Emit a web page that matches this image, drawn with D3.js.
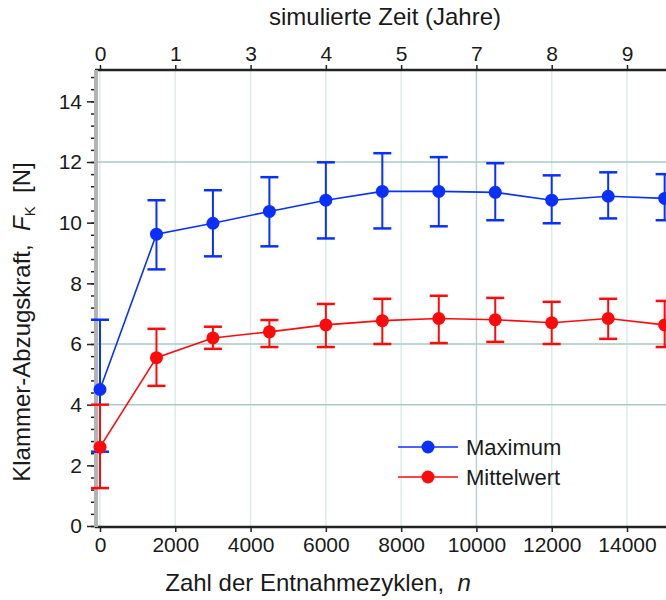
<!DOCTYPE html>
<meta charset="utf-8">
<script src="https://d3js.org/d3.v7.min.js"></script>
<style>
  body { margin: 0; background: #fff; }
  text { font-family: "Liberation Sans", Arial, sans-serif; fill: #1a1a1a; }
</style>
<div id="my_dataviz"></div>
<script>

// number of cycles (x values)
var cycles = [0, 1500, 3000, 4500, 6000, 7500, 9000, 10500, 12000, 13500, 15000];

// Maximum series: value, lower and upper end of the error bar
var maxVal  = [4.50, 9.62, 9.98, 10.37, 10.74, 11.03, 11.03, 11.00, 10.74, 10.87, 10.80];
var maxLow  = [2.45, 8.46, 8.89,  9.22,  9.48,  9.81,  9.88, 10.08,  9.98, 10.14, 10.08];
var maxHigh = [6.80, 10.74, 11.07, 11.50, 11.99, 12.29, 12.16, 11.96, 11.56, 11.66, 11.60];

// Mittelwert series
var meanVal  = [2.60, 5.55, 6.20, 6.40, 6.63, 6.77, 6.84, 6.80, 6.70, 6.84, 6.63];
var meanLow  = [1.25, 4.62, 5.84, 5.90, 5.90, 6.00, 6.03, 6.07, 6.00, 6.17, 5.90];
var meanHigh = [4.00, 6.50, 6.57, 6.79, 7.32, 7.49, 7.59, 7.52, 7.39, 7.49, 7.42];

// ticks
var xTicks = [0, 2000, 4000, 6000, 8000, 10000, 12000, 14000];
var yearLabels = ["0", "1", "3", "4", "5", "7", "8", "9"];
var yTicks = [0, 2, 4, 6, 8, 10, 12, 14];
var yGrid = [4, 6, 12];

var seriesNames = ["Maximum", "Mittelwert"];
var seriesColors = ["#0a30ff", "#ff0a0a"];

var width = 666, height = 600;
var plotLeft = 95, plotTop = 70, plotBottom = 527;

var svg = d3.select("#my_dataviz")
  .append("svg")
    .attr("width", width)
    .attr("height", height);

var x = d3.scaleLinear()
  .domain([0, 14000])
  .range([100, 627]);

var y = d3.scaleLinear()
  .domain([0, 15])
  .range([526, 71]);

// vertical grid lines
svg.append("g")
  .selectAll("line")
  .data(xTicks)
  .enter()
  .append("line")
    .attr("x1", function(d){ return x(d) })
    .attr("x2", function(d){ return x(d) })
    .attr("y1", plotTop)
    .attr("y2", plotBottom)
    .attr("stroke", function(d){ return d == 10000 ? "#b9d3d3" : "#dcebeb" })
    .attr("stroke-width", 1.5)

// horizontal grid lines
svg.append("g")
  .selectAll("line")
  .data(yGrid)
  .enter()
  .append("line")
    .attr("x1", plotLeft)
    .attr("x2", width)
    .attr("y1", function(d){ return y(d) })
    .attr("y2", function(d){ return y(d) })
    .attr("stroke", "#a9cac7")
    .attr("stroke-width", 1.5)

// bottom axis
var xAxis = svg.append("g")
  .attr("transform", "translate(0," + plotBottom + ")")
  .call(d3.axisBottom(x).tickValues(xTicks).tickSize(5).tickPadding(5).tickFormat(d3.format("d")))
xAxis.select(".domain").remove()
xAxis.selectAll("text").style("font-size", "21px")
xAxis.selectAll("line").attr("stroke", "#222").attr("stroke-width", 1.5)
svg.append("line")
  .attr("x1", plotLeft).attr("x2", width)
  .attr("y1", plotBottom).attr("y2", plotBottom)
  .attr("stroke", "#222").attr("stroke-width", 2.5)

// top axis (simulated years)
var topAxis = svg.append("g")
  .attr("transform", "translate(0," + plotTop + ")")
  .call(d3.axisTop(x).tickValues(xTicks).tickSize(5).tickPadding(4)
    .tickFormat(function(d, i){ return yearLabels[i] }))
topAxis.select(".domain").remove()
topAxis.selectAll("text").style("font-size", "21px")
topAxis.selectAll("line").attr("stroke", "#222").attr("stroke-width", 1.5)
svg.append("line")
  .attr("x1", plotLeft).attr("x2", width)
  .attr("y1", plotTop).attr("y2", plotTop)
  .attr("stroke", "#222").attr("stroke-width", 2.5)

// left axis: minor ticks, then major ticks with labels
var minor = svg.append("g")
  .attr("transform", "translate(" + plotLeft + ",0)")
  .call(d3.axisLeft(y).tickValues(d3.range(0, 15, 0.4)).tickSize(4).tickFormat(""))
minor.select(".domain").remove()
minor.selectAll("line").attr("stroke", "#222").attr("stroke-width", 1.5)

var yAxis = svg.append("g")
  .attr("transform", "translate(" + plotLeft + ",0)")
  .call(d3.axisLeft(y).tickValues(yTicks).tickSize(8).tickPadding(5))
yAxis.select(".domain").remove()
yAxis.selectAll("text").style("font-size", "21px")
yAxis.selectAll("line").attr("stroke", "#222").attr("stroke-width", 1.5)
svg.append("line")
  .attr("x1", plotLeft + 1).attr("x2", plotLeft + 1)
  .attr("y1", plotTop).attr("y2", plotBottom)
  .attr("stroke", "#b3b3b3").attr("stroke-width", 4)

// axis titles
svg.append("text")
  .attr("x", 385).attr("y", 25)
  .attr("text-anchor", "middle")
  .style("font-size", "24px")
  .text("simulierte Zeit (Jahre)")

svg.append("text")
  .attr("x", 318).attr("y", 591)
  .attr("text-anchor", "middle")
  .style("font-size", "24px")
  .text("Zahl der Entnahmezyklen,\u00a0\u00a0")
  .append("tspan")
    .style("font-style", "italic")
    .text("n")

var yTitle = svg.append("text")
  .attr("transform", "translate(30,322) rotate(-90)")
  .attr("text-anchor", "middle")
  .style("font-size", "24px")
yTitle.append("tspan").text("Klammer-Abzugskraft,\u00a0\u00a0")
yTitle.append("tspan").style("font-style", "italic").text("F")
yTitle.append("tspan").attr("dy", 5).style("font-size", "15px").text("K")
yTitle.append("tspan").attr("dy", -5).text("\u00a0\u00a0[N]")

// series
var series = [
  { name: seriesNames[0], color: seriesColors[0], val: maxVal, low: maxLow, high: maxHigh },
  { name: seriesNames[1], color: seriesColors[1], val: meanVal, low: meanLow, high: meanHigh }
];

var line = d3.line()
  .x(function(d){ return x(d.n) })
  .y(function(d){ return y(d.v) })

series.forEach(function(s){
  var pts = cycles.map(function(n, i){ return { n: n, v: s.val[i], lo: s.low[i], hi: s.high[i] } })
  var g = svg.append("g")

  g.append("path")
    .datum(pts)
    .attr("d", line)
    .attr("fill", "none")
    .attr("stroke", s.color)
    .attr("stroke-width", 1.6)

  // error bars
  g.selectAll("bar")
    .data(pts)
    .enter()
    .append("line")
      .attr("x1", function(d){ return x(d.n) })
      .attr("x2", function(d){ return x(d.n) })
      .attr("y1", function(d){ return y(d.lo) })
      .attr("y2", function(d){ return y(d.hi) })
      .attr("stroke", s.color)
      .attr("stroke-width", 2)

  ;["lo", "hi"].forEach(function(k){
    g.selectAll("cap" + k)
      .data(pts)
      .enter()
      .append("line")
        .attr("x1", function(d){ return x(d.n) - 9 })
        .attr("x2", function(d){ return x(d.n) + 9 })
        .attr("y1", function(d){ return y(d[k]) })
        .attr("y2", function(d){ return y(d[k]) })
        .attr("stroke", s.color)
        .attr("stroke-width", 2.5)
  })

  g.selectAll("circle")
    .data(pts)
    .enter()
    .append("circle")
      .attr("cx", function(d){ return x(d.n) })
      .attr("cy", function(d){ return y(d.v) })
      .attr("r", 6.5)
      .attr("fill", s.color)
})

// legend
var legend = svg.append("g")
  .selectAll("g")
  .data(series)
  .enter()
  .append("g")
    .attr("transform", function(d, i){ return "translate(398," + (447 + i * 30) + ")" })
legend.append("line")
  .attr("x1", 0).attr("x2", 60)
  .attr("stroke", function(d){ return d.color })
  .attr("stroke-width", 1.6)
legend.append("circle")
  .attr("cx", 30).attr("r", 6.5)
  .attr("fill", function(d){ return d.color })
legend.append("text")
  .attr("x", 68).attr("dy", "0.35em")
  .style("font-size", "22px")
  .text(function(d){ return d.name })

</script>
